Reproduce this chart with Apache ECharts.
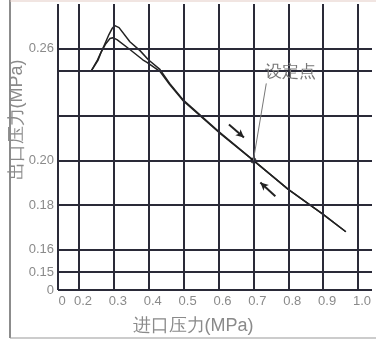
<!DOCTYPE html>
<html><head><meta charset="utf-8">
<script src="https://cdn.jsdelivr.net/npm/echarts@6/dist/echarts.min.js"></script>
<style>html,body{margin:0;padding:0;background:#fff}#c{width:376px;height:341px}</style>
</head><body><div id="c"></div>
<script>
// tick labels and grid lines
const xTickLabels = [0, 0.2, 0.3, 0.4, 0.5, 0.6, 0.7, 0.8, 0.9, 1.0];
const yTickLabels = [0, 0.15, 0.16, 0.18, 0.20, 0.26];
const xGridLines = [0, 0.2, 0.3, 0.4, 0.5, 0.6, 0.7, 0.8, 0.9, 1.0];
const yGridLines = [0, 0.15, 0.16, 0.18, 0.20, 0.22, 0.24, 0.26];

// outer branch (inlet MPa, outlet MPa); pairs at 0.245/0.255 are where the curve crosses the axis break
const inletOuter  = [0.235, 0.253, 0.2535, 0.272, 0.286, 0.295, 0.303, 0.315, 0.346, 0.375, 0.399, 0.3995, 0.432, 0.46, 0.50, 0.60, 0.70, 0.80, 0.90, 0.965];
const outletOuter = [0.240, 0.245, 0.255, 0.2613, 0.2663, 0.2690, 0.2703, 0.2694, 0.2631, 0.2591, 0.255, 0.245, 0.2408, 0.2345, 0.2269, 0.2130, 0.200, 0.187, 0.1758, 0.168];
// inner branch
const inletInner  = [0.235, 0.255, 0.2555, 0.263, 0.277, 0.289, 0.297, 0.309, 0.346, 0.383, 0.3835, 0.395, 0.432, 0.46, 0.50, 0.60, 0.70, 0.80, 0.90, 0.965];
const outletInner = [0.240, 0.245, 0.255, 0.2582, 0.2622, 0.2645, 0.2649, 0.2640, 0.2596, 0.255, 0.245, 0.2439, 0.2399, 0.2340, 0.2265, 0.2127, 0.200, 0.187, 0.1758, 0.168];

// set point and annotations
const setPoint = [0.70, 0.20];
const setPointLabel = '设定点';
const setLabelPos = [0.806, 0.2396];
const leaderEnd = [0.737, 0.2345];
const arrowDown = [[0.63, 0.2161], [0.673, 0.2103]];
const arrowUp = [[0.763, 0.1839], [0.72, 0.1901]];

const zip = (a, b) => a.map((v, i) => [v, b[i]]);
const lineColor = '#2a2a38';
const textColor = '#8a8a8a';

const chart = echarts.init(document.getElementById('c'), null, {renderer: 'canvas'});
chart.setOption({
  animation: false,
  backgroundColor: '#ffffff',
  grid: {left: 58, right: 4, top: 4, bottom: 51, outerBoundsMode: 'none', containLabel: false},
  xAxis: {
    type: 'value', min: 0, max: 1.04,
    breaks: [{start: 0, end: 0.2, gap: 0.06}],
    breakArea: {show: false},
    axisLine: {show: false}, axisTick: {show: false}, splitLine: {show: false},
    axisLabel: {customValues: xTickLabels, formatter: v => v === 0 ? '0' : v.toFixed(1),
      color: textColor, fontSize: 13, margin: 5, padding: [0, 0, 0, 8]},
    name: '进口压力(MPa)', nameLocation: 'middle', nameGap: 27, nameMoveOverlap: false,
    nameTextStyle: {color: textColor, fontSize: 18, padding: [0, 44, 0, 0]}
  },
  yAxis: {
    type: 'value', min: 0, max: 0.28,
    breaks: [{start: 0, end: 0.15, gap: 0.0081}, {start: 0.245, end: 0.255, gap: 0.0001}],
    breakArea: {show: false},
    axisLine: {show: false}, axisTick: {show: false}, splitLine: {show: false},
    axisLabel: {customValues: yTickLabels, formatter: v => v === 0 ? '0' : v.toFixed(2),
      color: textColor, fontSize: 13, margin: 4},
    name: '出口压力(MPa)', nameLocation: 'middle', nameGap: 32, nameRotate: 90, nameMoveOverlap: false,
    nameTextStyle: {color: textColor, fontSize: 18, padding: [0, 0, 0, 54]}
  },
  graphic: [
    {type: 'line', shape: {x1: 10, y1: 0, x2: 10, y2: 338}, style: {stroke: '#666', lineWidth: 1.5}, silent: true},
    {type: 'line', shape: {x1: 10, y1: 338, x2: 376, y2: 338}, style: {stroke: '#999', lineWidth: 1}, silent: true},
    {type: 'line', shape: {x1: 10, y1: 1, x2: 376, y2: 1}, style: {stroke: '#e3cbc4', lineWidth: 1}, silent: true}
  ],
  series: [
    {
      type: 'line', name: 'grid', data: [], z: 1, silent: true,
      markLine: {
        silent: true, symbol: 'none', animation: false,
        label: {show: false},
        lineStyle: {color: lineColor, width: 2, type: 'solid'},
        emphasis: {disabled: true},
        data: [...xGridLines.map(v => ({xAxis: v})), ...yGridLines.map(v => ({yAxis: v}))]
      }
    },
    {
      type: 'line', name: 'outer', data: zip(inletOuter, outletOuter), z: 3,
      symbol: 'none', smooth: false, lineStyle: {color: '#222', width: 1.5, join: 'round'}
    },
    {
      type: 'line', name: 'inner', data: zip(inletInner, outletInner), z: 3,
      symbol: 'none', smooth: false, lineStyle: {color: '#222', width: 1.5, join: 'round'},
      markLine: {
        silent: true, animation: false, symbol: ['none', 'arrow'], symbolSize: [6, 8],
        label: {show: false},
        lineStyle: {color: '#222', width: 2, type: 'solid'},
        data: [
          [{coord: arrowDown[0]}, {coord: arrowDown[1]}],
          [{coord: arrowUp[0]}, {coord: arrowUp[1]}]
        ]
      }
    },
    {
      type: 'scatter', name: 'set', data: [setPoint], z: 4,
      symbol: 'circle', symbolSize: 6, itemStyle: {color: '#111'},
      markLine: {
        silent: true, animation: false, symbol: 'none',
        label: {show: false},
        lineStyle: {color: '#777', width: 1, type: 'solid'},
        data: [[{coord: setPoint}, {coord: leaderEnd}]]
      },
      markPoint: {
        silent: true, symbol: 'circle', symbolSize: 0,
        label: {show: true, formatter: setPointLabel, color: '#777', fontSize: 17, position: 'inside'},
        data: [{coord: setLabelPos}]
      }
    }
  ]
});
</script></body></html>
